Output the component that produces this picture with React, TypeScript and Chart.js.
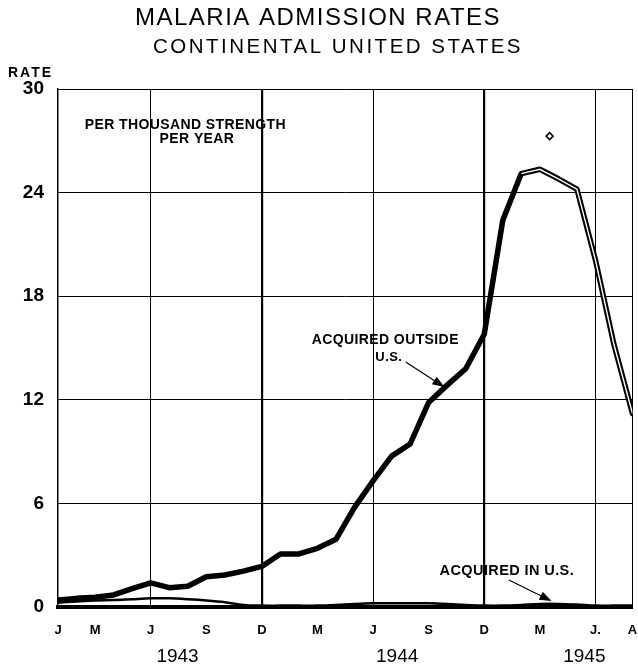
import React, { useEffect, useRef } from "react";
import { Chart, registerables } from "chart.js";

Chart.register(...registerables);

// Months Jan 1943 (index 0) .. Aug 1945 (index 31)
const months: string[] = [
  "Jan 1943", "Feb 1943", "Mar 1943", "Apr 1943", "May 1943", "Jun 1943",
  "Jul 1943", "Aug 1943", "Sep 1943", "Oct 1943", "Nov 1943", "Dec 1943",
  "Jan 1944", "Feb 1944", "Mar 1944", "Apr 1944", "May 1944", "Jun 1944",
  "Jul 1944", "Aug 1944", "Sep 1944", "Oct 1944", "Nov 1944", "Dec 1944",
  "Jan 1945", "Feb 1945", "Mar 1945", "Apr 1945", "May 1945", "Jun 1945",
  "Jul 1945", "Aug 1945",
];

const acquiredOutside: number[] = [
  0.4, 0.5, 0.56, 0.7, 1.06, 1.4, 1.12, 1.2, 1.75, 1.85, 2.08, 2.35,
  3.07, 3.07, 3.4, 3.92, 5.77, 7.3, 8.74, 9.44, 11.85, 12.85, 13.8, 15.8,
  22.4, 25.1, 25.35, 24.8, 24.2, 20.1, 15.2, 11.2,
];

const acquiredInUS: number[] = [
  0.25, 0.32, 0.38, 0.4, 0.45, 0.5, 0.5, 0.45, 0.38, 0.28, 0.12, 0.08,
  0.08, 0.08, 0.08, 0.12, 0.18, 0.22, 0.22, 0.22, 0.22, 0.18, 0.12, 0.08,
  0.08, 0.12, 0.18, 0.18, 0.14, 0.08, 0.08, 0.08,
];

// provisional part of the outside series is drawn hollow, from this month on
const hollowFrom = "Feb 1945";

const strayMark = [{ x: 26.53, y: 27.27 }];

const xTickMonths: number[] = [0, 2, 5, 8, 11, 14, 17, 20, 23, 26, 29, 31];
const xTickLabels: string[] = ["J", "M", "J", "S", "D", "M", "J", "S", "D", "M", "J.", "A"];
const gridMonths: number[] = [5, 11, 17, 23, 29, 31];
const heavyGridMonths: number[] = [11, 23];
const yTicks: number[] = [0, 6, 12, 18, 24, 30];
const years: string[] = ["1943", "1944", "1945"];

const FONT = "'Liberation Sans', Arial, sans-serif";

const textPlugin = {
  id: "textPlugin",
  afterDraw(chart: any) {
    const { ctx, scales } = chart;
    const x = scales.x;
    const y = scales.y;
    ctx.save();
    ctx.fillStyle = "#000";
    ctx.strokeStyle = "#000";
    ctx.textBaseline = "middle";
    ctx.textAlign = "center";

    // titles
    (ctx as any).letterSpacing = "1.5px";
    ctx.font = `24px ${FONT}`;
    ctx.fillText("MALARIA ADMISSION RATES", 318, 18);
    (ctx as any).letterSpacing = "2.5px";
    ctx.font = `20.5px ${FONT}`;
    ctx.fillText("CONTINENTAL UNITED STATES", 338, 47);
    (ctx as any).letterSpacing = "2px";
    ctx.font = `bold 14px ${FONT}`;
    ctx.textAlign = "left";
    ctx.fillText("RATE", 8, 73);

    // year labels
    ctx.textAlign = "center";
    (ctx as any).letterSpacing = "0px";
    ctx.font = `19px ${FONT}`;
    const yearPos = [6.45, 18.3, 28.4];
    years.forEach((yr, i) => ctx.fillText(yr, x.getPixelForValue(yearPos[i]), 657));

    // annotations
    (ctx as any).letterSpacing = "0.4px";
    ctx.font = `bold 14px ${FONT}`;
    ctx.fillText("PER THOUSAND STRENGTH", x.getPixelForValue(6.87), y.getPixelForValue(27.9));
    ctx.fillText("PER YEAR", x.getPixelForValue(7.5), y.getPixelForValue(27.1));
    ctx.font = `bold 14px ${FONT}`;
    ctx.fillText("ACQUIRED OUTSIDE", x.getPixelForValue(17.66), y.getPixelForValue(15.46));
    ctx.font = `bold 13px ${FONT}`;
    ctx.fillText("U.S.", x.getPixelForValue(17.85), y.getPixelForValue(14.48));
    ctx.font = `bold 14.5px ${FONT}`;
    ctx.fillText("ACQUIRED IN U.S.", x.getPixelForValue(24.22), y.getPixelForValue(2.08));

    const arrow = (x0: number, y0: number, x1: number, y1: number) => {
      const ax = x.getPixelForValue(x0), ay = y.getPixelForValue(y0);
      const bx = x.getPixelForValue(x1), by = y.getPixelForValue(y1);
      const ang = Math.atan2(by - ay, bx - ax);
      ctx.lineWidth = 1.2;
      ctx.beginPath();
      ctx.moveTo(ax, ay);
      ctx.lineTo(bx - 8 * Math.cos(ang), by - 8 * Math.sin(ang));
      ctx.stroke();
      const hl = 12, hw = 4.5;
      ctx.beginPath();
      ctx.moveTo(bx, by);
      ctx.lineTo(bx - hl * Math.cos(ang) + hw * Math.sin(ang), by - hl * Math.sin(ang) - hw * Math.cos(ang));
      ctx.lineTo(bx - hl * Math.cos(ang) - hw * Math.sin(ang), by - hl * Math.sin(ang) + hw * Math.cos(ang));
      ctx.closePath();
      ctx.fill();
    };
    arrow(18.76, 14.19, 20.85, 12.74);
    arrow(24.33, 1.56, 26.63, 0.35);
    ctx.restore();
  },
};

export default function App() {
  const ref = useRef<HTMLCanvasElement | null>(null);
  useEffect(() => {
    if (!ref.current) return;
    const hollowIdx = months.indexOf(hollowFrom);
    const chart = new Chart(ref.current, {
      type: "line",
      data: {
        datasets: [
          {
            label: "Acquired in U.S.",
            data: acquiredInUS.map((v, i) => ({ x: i, y: v })),
            borderColor: "#000",
            borderWidth: 2.5,
            pointRadius: 0,
            tension: 0.3,
            order: 3,
          },
          {
            label: "Acquired outside U.S.",
            data: acquiredOutside.map((v, i) => ({ x: i, y: v })),
            borderColor: "#000",
            borderWidth: 5.5,
            pointRadius: 0,
            borderJoinStyle: "round",
            borderCapStyle: "round",
            order: 2,
          },
          {
            label: "provisional",
            data: acquiredOutside.map((v, i) => ({ x: i, y: i >= hollowIdx ? v : null })),
            borderColor: "#fff",
            borderWidth: 1.4,
            pointRadius: 0,
            order: 1,
          },
          {
            label: "mark",
            data: strayMark,
            showLine: false,
            pointStyle: "rectRot",
            pointRadius: 3.5,
            pointBorderWidth: 1.5,
            pointBorderColor: "#000",
            pointBackgroundColor: "#fff",
            order: 0,
          } as any,
        ],
      },
      options: {
        animation: false,
        responsive: false,
        layout: { padding: { top: 89, right: 2, left: 0, bottom: 0 } },
        plugins: { legend: { display: false }, tooltip: { enabled: false }, title: { display: false } },
        scales: {
          x: {
            type: "linear",
            min: 0,
            max: 31,
            afterBuildTicks: (axis: any) => {
              axis.ticks = xTickMonths.map((v) => ({ value: v }));
            },
            afterFit: (scale: any) => {
              scale.height = 59;
              scale.paddingLeft = 0;
              scale.paddingRight = 0;
            },
            ticks: {
              autoSkip: false,
              maxRotation: 0,
              padding: 16,
              color: "#000",
              font: { family: FONT, size: 13, weight: "bold" },
              callback: (v: any) => {
                const i = xTickMonths.indexOf(Number(v));
                return i >= 0 ? xTickLabels[i] : "";
              },
            },
            grid: {
              drawTicks: false,
              color: (c: any) => (c.tick && gridMonths.includes(c.tick.value) ? "#000" : "rgba(0,0,0,0)"),
              lineWidth: (c: any) => (c.tick && heavyGridMonths.includes(c.tick.value) ? 2.2 : 1),
            },
            border: { display: true, color: "#000", width: 4 },
          },
          y: {
            min: 0,
            max: 30,
            afterBuildTicks: (axis: any) => {
              axis.ticks = yTicks.map((v) => ({ value: v }));
            },
            afterFit: (scale: any) => {
              scale.width = 58;
              scale.paddingTop = 0;
              scale.paddingBottom = 0;
            },
            ticks: {
              padding: 14,
              color: "#000",
              font: { family: FONT, size: 19, weight: "bold" },
            },
            grid: { drawTicks: false, color: "#000", lineWidth: 1 },
            border: { display: true, color: "#000", width: 1.5 },
          },
        },
      },
      plugins: [textPlugin],
    });
    return () => chart.destroy();
  }, []);
  return (
    <div style={{ position: "absolute", left: 0, top: 0, width: 638, height: 666, background: "#fff" }}>
      <canvas ref={ref} width={638} height={666} style={{ width: 638, height: 666, display: "block" }} />
    </div>
  );
}
